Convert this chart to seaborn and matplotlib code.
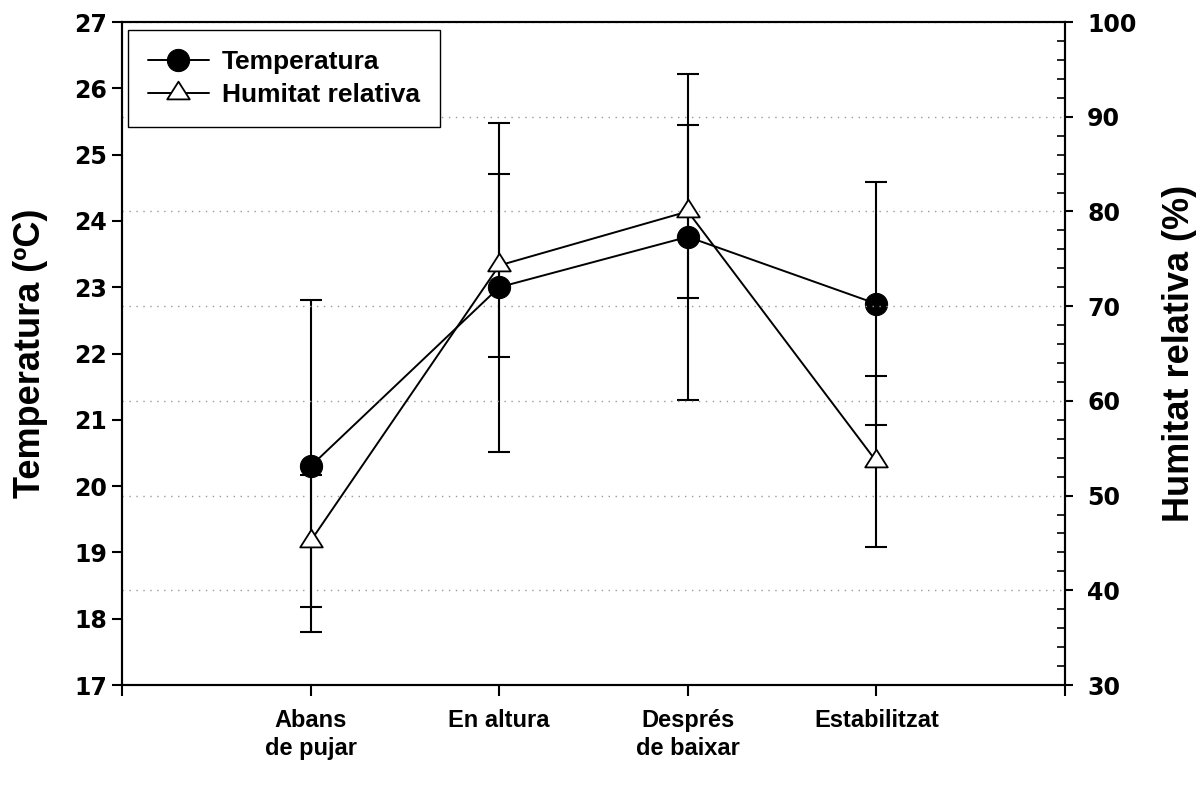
import numpy as np
import pandas as pd
import matplotlib
matplotlib.use('Agg')
import matplotlib.pyplot as plt
from matplotlib.path import Path
from matplotlib.ticker import MultipleLocator
import seaborn as sns

# values
stages = ['Abans\nde pujar', 'En altura', 'Després\nde baixar', 'Estabilitzat']
temp = [20.3, 23.0, 23.76, 22.75]
temp_err = [2.5, 2.48, 2.46, 1.83]
hum = [45.2, 74.3, 80.0, 53.6]
hum_err = [7.0, 9.7, 9.1, 9.0]

pos = np.arange(1, len(stages) + 1)
df = pd.DataFrame({'pos': pos, 'Temperatura': temp, 'Humitat relativa': hum})

sns.set_theme(style='ticks', rc={'axes.edgecolor': 'black', 'text.color': 'black',
                                 'xtick.color': 'black', 'ytick.color': 'black',
                                 'axes.labelcolor': 'black'})
plt.rcParams['font.family'] = ['Liberation Sans', 'DejaVu Sans']

fig = plt.figure(figsize=(12, 7.87), dpi=100)
ax1 = fig.add_axes([0.1017, 0.1296, 0.7858, 0.8424])
ax2 = ax1.twinx()

# triangle with its centroid on the data point
tri = Path([(-1, -0.523), (1, -0.523), (0, 1.047), (-1, -0.523)],
           [Path.MOVETO, Path.LINETO, Path.LINETO, Path.CLOSEPOLY])

ax1.errorbar(pos, temp, yerr=temp_err, fmt='none', ecolor='black',
             elinewidth=1.5, capsize=7.7, capthick=1.5, zorder=1)
sns.lineplot(data=df, x='pos', y='Temperatura', ax=ax1, color='black', lw=1.4,
             marker='o', markersize=16, markerfacecolor='black',
             markeredgecolor='black', zorder=3)
h_temp = ax1.lines[-1]

ax2.errorbar(pos, hum, yerr=hum_err, fmt='none', ecolor='black',
             elinewidth=1.5, capsize=7.7, capthick=1.5, zorder=1)
sns.lineplot(data=df, x='pos', y='Humitat relativa', ax=ax2, color='black', lw=1.4,
             marker='o', zorder=3)
h_hum = ax2.lines[-1]
h_hum.set_marker(tri)
h_hum.set_markersize(17)
h_hum.set_markerfacecolor('white')
h_hum.set_markeredgecolor('black')
h_hum.set_markeredgewidth(1.3)

# axes, ticks
ax1.set_xlim(0, 5)
ax1.set_ylim(17, 27)
ax2.set_ylim(30, 100)
ax1.set_xticks(range(6))
ax1.set_xticklabels([''] + stages + [''], fontsize=17, fontweight='bold',
                    linespacing=1.3)
ax1.set_yticks(range(17, 28))
ax2.set_yticks(range(30, 101, 10))
ax2.yaxis.set_minor_locator(MultipleLocator(2))
for lab in ax1.get_yticklabels() + ax2.get_yticklabels():
    lab.set_fontsize(17)
    lab.set_fontweight('bold')
    lab.set_family('DejaVu Sans')

ax1.tick_params(axis='x', direction='out', length=8, width=1.5, pad=9, bottom=True, top=False)
ax1.tick_params(axis='y', direction='out', length=7, width=1.5, pad=4, left=True, right=False)
ax2.tick_params(axis='y', which='major', direction='out', length=6, width=1.5, pad=10)
ax2.tick_params(axis='y', which='minor', direction='in', length=6, width=1.2)
for ax in (ax1, ax2):
    for sp in ax.spines.values():
        sp.set_linewidth(1.5)
        sp.set_color('black')

ax2.grid(axis='y', which='major', linestyle=(0, (1, 4)), color='#9a9a9a', lw=1)

ax1.set_xlabel('')
ax1.set_ylabel('Temperatura (ºC)', fontsize=26, fontweight='bold')
ax2.set_ylabel('Humitat relativa (%)', fontsize=26, fontweight='bold')
ax1.yaxis.set_label_coords(-0.079, 0.5)
ax2.yaxis.set_label_coords(1.103, 0.5)

leg = ax2.legend([h_temp, h_hum], ['Temperatura', 'Humitat relativa'],
                 loc='upper left', bbox_to_anchor=(0.0064, 0.988), borderaxespad=0,
                 fancybox=False, framealpha=1, edgecolor='black', handlelength=2.3,
                 prop={'family': 'Liberation Sans', 'weight': 'bold', 'size': 19},
                 labelspacing=0.36, borderpad=0.75, handletextpad=0.5)
leg.get_frame().set_linewidth(1.0)

fig.savefig('out.png', dpi=100)
